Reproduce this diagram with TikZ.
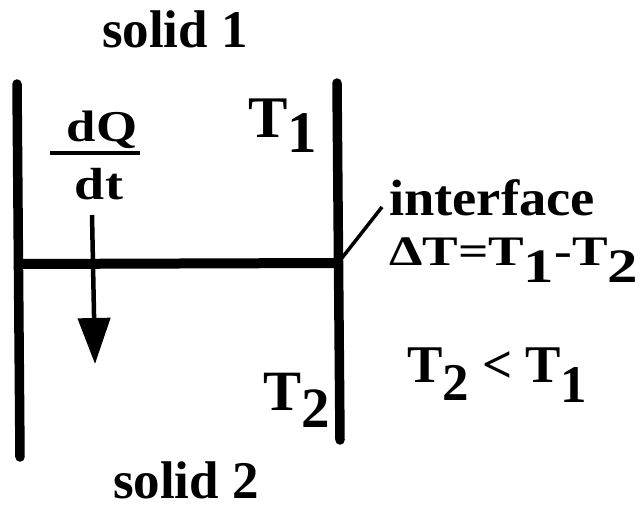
\documentclass[tikz,border=0pt]{standalone}
\usepackage{fontspec}
\usepackage{graphicx}
\setmainfont{Liberation Serif}
\usetikzlibrary{arrows.meta}
\newcommand{\fsz}[1]{\fontsize{#1}{#1}\selectfont}
\newcommand{\lowsub}[2]{\raisebox{-#1pt}{#2}}
\begin{document}
\begin{tikzpicture}[x=1pt,y=-1pt,
  every node/.style={inner sep=0pt, outer sep=0pt, font=\bfseries},
  wall/.style={line width=9.5pt, line cap=round},
  iface/.style={line width=10pt},
  flow/.style={line width=4.5pt, -{Triangle[width=32pt,length=46pt]}},
  leader/.style={line width=3.5pt},
  fracbar/.style={line width=4.5pt}]
\fill[white] (0,0) rectangle (642,516);
\useasboundingbox (0,0) rectangle (642,516);
% walls
\coordinate (lwt) at (17,84);
\coordinate (lwb) at (20,457);
\coordinate (rwt) at (337,83);
\coordinate (rwb) at (340,440);
\coordinate (ifl) at (20,264);
\coordinate (ifr) at (338,263);
\coordinate (arrs) at (92,215);
\coordinate (arrt) at (95,364);
\coordinate (lead) at (382,207);
\coordinate (fbl) at (50,153);
\coordinate (fbr) at (140,153);
\draw[wall] (lwt) -- (lwb);
\draw[wall] (rwt) -- (rwb);
\draw[iface] (ifl) -- (ifr);
\draw[flow] (arrs) -- (arrt);
\draw[leader] (ifr) -- (lead);
\draw[fracbar] (fbl) -- (fbr);
% texts
\node[anchor=base] (solid1) at (175,48) {\fsz{53}solid 1};
\node[anchor=base] (solid2) at (186,498) {\fsz{53}solid 2};
\node[anchor=base] (dQ) at (102,142) {\fsz{44}\scalebox{1.2}[1]{dQ}};
\node[anchor=base] (dt) at (99,199) {\fsz{45}\scalebox{1.2}[1]{dt}};
\node[anchor=base west] (T1) at (248,137) {\fsz{59}T\lowsub{15}{1}};
\node[anchor=base west] (T2) at (263,410) {\fsz{57}T\lowsub{17}{2}};
\node[anchor=base west] (interface) at (389,215) {\fsz{51}\scalebox{1.07}[1]{interface}};
\node[anchor=base west] (deltaT) at (389,265) {\scalebox{1.27}[1]{\fsz{42}ΔT=T\lowsub{17}{\fsz{48}1}-T\lowsub{17}{\fsz{48}2}}};
\node[anchor=base west] (ineq) at (407,382) {\fsz{53}T\lowsub{18}{2} < T\lowsub{20}{1}};
\end{tikzpicture}
\end{document}
